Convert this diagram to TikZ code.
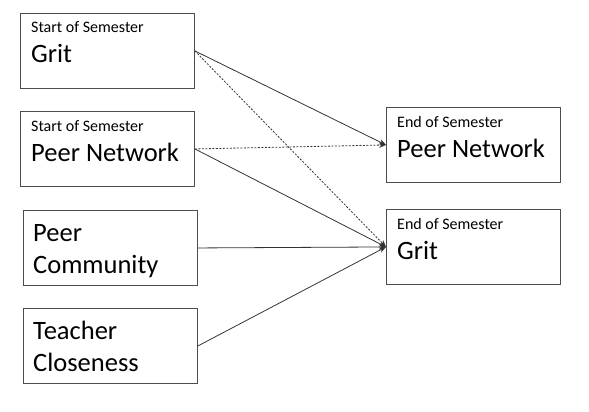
\documentclass[tikz,border=0pt]{standalone}
\usepackage{fontspec}
\setmainfont{Carlito}
\usetikzlibrary{arrows.meta}
\begin{document}
\begin{tikzpicture}[x=1pt,y=-1pt,
  box/.style={draw=black!70,line width=0.9pt,minimum width=174pt,minimum height=75pt,anchor=north west,inner sep=0pt},
  small/.style={anchor=base west,inner sep=0pt,font=\fontsize{16}{19}\selectfont},
  big/.style={anchor=base west,inner sep=0pt,font=\fontsize{26.5}{32}\selectfont},
  conn/.style={draw=black!80,line width=0.8pt,-{Stealth[length=7pt,width=5.5pt]}},
  dconn/.style={conn,dash pattern=on 2pt off 1.5pt}]
\useasboundingbox (0,0) rectangle (589,412);
% left boxes
\node[box] (sg) at (20,13) {};
\node[small] (sgs) at (31,33) {Start of Semester};
\node[big] (sgb) at (31,63) {Grit};
\node[box] (sp) at (20,111) {};
\node[small] (sps) at (31,131) {Start of Semester};
\node[big] (spb) at (31,161) {Peer Network};
\node[box] (pc) at (23,210) {};
\node[big] (pc1) at (33,241) {Peer};
\node[big] (pc2) at (33,273) {Community};
\node[box] (tc) at (23,308) {};
\node[big] (tc1) at (33,339) {Teacher};
\node[big] (tc2) at (33,371) {Closeness};
% right boxes
\node[box] (ep) at (386,107) {};
\node[small] (eps) at (397,127) {End of Semester};
\node[big] (epb) at (397,157) {Peer Network};
\node[box] (eg) at (386,209) {};
\node[small] (egs) at (397,229) {End of Semester};
\node[big] (egb) at (397,259) {Grit};
% connectors
\draw[conn] (sg.east) -- (ep.west);
\draw[dconn] (sg.east) -- (eg.west);
\draw[dconn] (sp.east) -- (ep.west);
\draw[conn] (sp.east) -- (eg.west);
\draw[conn] (pc.east) -- (eg.west);
\draw[conn] (tc.east) -- (eg.west);
\end{tikzpicture}
\end{document}
